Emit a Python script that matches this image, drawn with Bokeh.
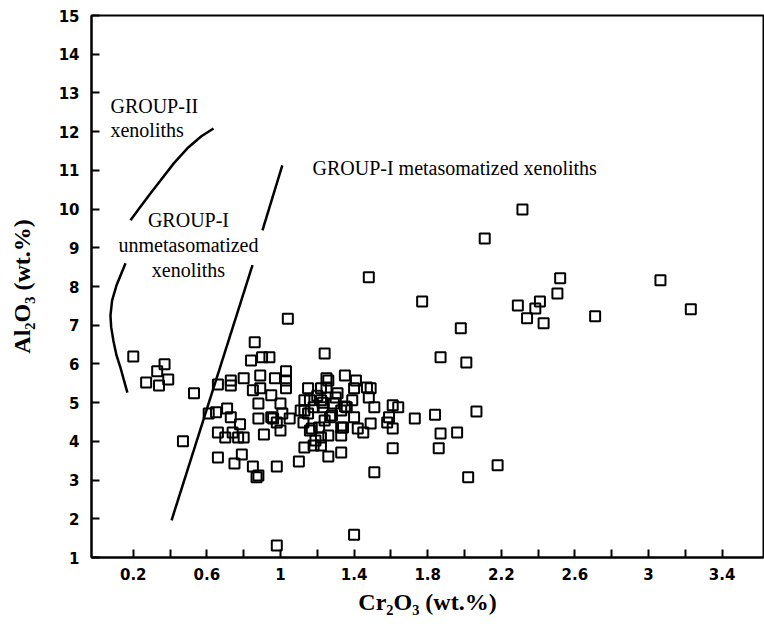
from bokeh.plotting import figure
from bokeh.models import FixedTicker, Label, Range1d
from bokeh.embed import file_html
from bokeh.resources import INLINE

# ---- data: Cr2O3 (wt.%) vs Al2O3 (wt.%) ----
cr2o3 = [
    0.20, 0.37, 0.33, 0.27, 0.34, 0.39, 0.47, 0.53,
    1.04, 0.86, 0.84, 0.90, 0.94, 1.24,
    0.66, 0.73, 0.73, 0.80, 0.89, 0.85, 0.89, 0.97, 1.03, 1.03, 1.03, 0.95, 0.88, 1.00,
    0.61, 0.65, 0.71, 0.73, 0.78, 0.66, 0.70, 0.74, 0.77, 0.80, 0.88, 0.96, 0.98, 1.00, 0.91, 1.05,
    0.66, 0.75, 0.79, 0.85, 0.87, 0.88, 0.98, 1.10, 1.13, 1.18, 1.22, 1.26, 1.33,
    0.98, 1.40,
    1.26, 1.17, 1.13, 1.15, 1.22, 1.26, 1.13, 1.23, 1.27,
    1.35, 1.41, 1.47, 1.49, 1.40, 1.31, 1.25, 1.25,
    1.18, 1.28, 1.33, 1.36, 1.39, 1.40, 1.51, 1.48, 1.61, 1.64, 1.59, 1.58, 1.61, 1.49, 1.42, 1.45,
    1.33, 1.33, 1.19, 1.61, 1.51,
    1.23, 1.29, 1.35, 1.24, 1.34, 1.30, 1.20,
    1.16, 1.22, 0.95, 1.01, 1.11, 1.15, 1.125, 1.16, 1.21, 1.22,
    1.48, 1.77, 1.87, 1.73, 1.84, 1.87, 1.96, 1.86, 2.02, 2.18, 2.065, 1.98, 2.01,
    2.315, 2.11, 2.52, 2.505, 3.065, 3.23, 2.29, 2.41, 2.385, 2.34, 2.43, 2.71,
]
al2o3 = [
    6.19, 5.99, 5.81, 5.52, 5.44, 5.60, 4.00, 5.24,
    7.17, 6.56, 6.09, 6.17, 6.17, 6.27,
    5.47, 5.57, 5.44, 5.63, 5.70, 5.32, 5.37, 5.63, 5.81, 5.57, 5.37, 5.19, 4.98, 4.98,
    4.72, 4.75, 4.85, 4.62, 4.44, 4.23, 4.10, 4.23, 4.10, 4.10, 4.59, 4.59, 4.49, 4.28, 4.18, 4.59,
    3.58, 3.43, 3.66, 3.35, 3.07, 3.12, 3.35, 3.48, 3.84, 3.89, 3.89, 3.61, 3.71,
    1.31, 1.59,
    4.15, 4.33, 5.06, 5.37, 5.37, 5.57, 4.80, 4.88, 4.62,
    5.70, 5.57, 5.39, 5.37, 5.37, 5.24, 5.63, 5.39,
    4.88, 4.67, 4.80, 4.88, 5.06, 4.62, 4.88, 5.13, 4.93, 4.88, 4.62, 4.49, 4.33, 4.46, 4.33, 4.23,
    4.36, 4.15, 4.02, 3.82, 3.20,
    5.00, 4.98, 4.90, 4.54, 4.36, 5.13, 5.18,
    5.06, 5.06, 4.62, 4.72, 4.80, 4.72, 4.49, 4.28, 4.36, 4.10,
    8.24, 7.61, 6.17, 4.59, 4.69, 4.20, 4.23, 3.82, 3.07, 3.38, 4.77, 6.92, 6.04,
    9.99, 9.24, 8.21, 7.82, 8.16, 7.41, 7.51, 7.61, 7.43, 7.18, 7.05, 7.23,
]

# field boundaries (data units)
group2_upper_x = [0.185, 0.23, 0.29, 0.348, 0.42, 0.494, 0.57, 0.636]
group2_upper_y = [9.71, 10.00, 10.38, 10.74, 11.18, 11.57, 11.88, 12.08]
group2_lower_x = [0.158, 0.109, 0.085, 0.076, 0.080, 0.092, 0.109, 0.130, 0.168]
group2_lower_y = [8.60, 8.03, 7.64, 7.25, 6.95, 6.60, 6.22, 5.91, 5.26]
group1_low_x = [0.408, 0.848]
group1_low_y = [1.96, 8.55]
group1_high_x = [0.902, 1.01]
group1_high_y = [9.45, 11.13]

x_ticks = [0.2, 0.6, 1.0, 1.4, 1.8, 2.2, 2.6, 3.0, 3.4]
x_tick_labels = ["0.2", "0.6", "1", "1.4", "1.8", "2.2", "2.6", "3", "3.4"]
x_minor = [0.4, 0.8, 1.2, 1.6, 2.0, 2.4, 2.8, 3.2]
y_ticks = list(range(1, 16))

p = figure(width=764, height=633, output_backend="svg", toolbar_location=None,
           x_range=Range1d(-0.027, 3.625), y_range=Range1d(1, 15),
           min_border_left=91, min_border_top=15, min_border_right=1, min_border_bottom=76)
p.grid.visible = False
p.outline_line_color = "black"
p.outline_line_width = 2
p.background_fill_color = "white"
p.border_fill_color = "white"

tick_font = "DejaVu Sans"
for ax in (p.xaxis[0], p.yaxis[0]):
    ax.axis_line_width = 2
    ax.major_tick_in = 8
    ax.major_tick_out = 0
    ax.minor_tick_in = 8
    ax.minor_tick_out = 0
    ax.major_tick_line_width = 2
    ax.minor_tick_line_width = 2
    ax.major_label_text_font = tick_font
    ax.major_label_text_font_style = "bold"
    ax.major_label_text_font_size = "15px"
    ax.major_label_text_color = "black"
    ax.axis_label_text_font = "Liberation Serif"
    ax.axis_label_text_font_style = "bold"
    ax.axis_label_text_font_size = "24px"
    ax.axis_label_text_color = "black"

p.xaxis.ticker = FixedTicker(ticks=x_ticks, minor_ticks=x_minor)
p.xaxis.major_label_overrides = {t: l for t, l in zip(x_ticks, x_tick_labels)}
p.xaxis.major_label_standoff = 10
p.xaxis.axis_label = "Cr₂O₃ (wt.%)"
p.xaxis.axis_label_standoff = 6

p.yaxis.ticker = FixedTicker(ticks=y_ticks, minor_ticks=[])
p.yaxis.major_label_standoff = 12
p.yaxis.axis_label = "Al₂O₃ (wt.%)"
p.yaxis.axis_label_standoff = 21

# boundaries
for xs, ys in ((group2_upper_x, group2_upper_y), (group2_lower_x, group2_lower_y),
               (group1_low_x, group1_low_y), (group1_high_x, group1_high_y)):
    p.line(xs, ys, line_color="black", line_width=2.5)

p.scatter(cr2o3, al2o3, marker="square", size=10, fill_alpha=0,
          line_color="black", line_width=2)

label_font = "Liberation Serif"
def lab(x, y, text, align="left"):
    p.add_layout(Label(x=x, y=y, text=text, text_font=label_font, text_font_size="20px",
                       text_align=align, text_baseline="middle", text_color="black"))

lab(0.076, 12.65, "GROUP-II")
lab(0.076, 12.03, "xenoliths")
lab(0.50, 9.71, "GROUP-I", "center")
lab(0.50, 9.06, "unmetasomatized", "center")
lab(0.50, 8.42, "xenoliths", "center")
lab(1.174, 11.05, "GROUP-I metasomatized xenoliths")

open("out.html", "w").write(file_html(p, INLINE))
